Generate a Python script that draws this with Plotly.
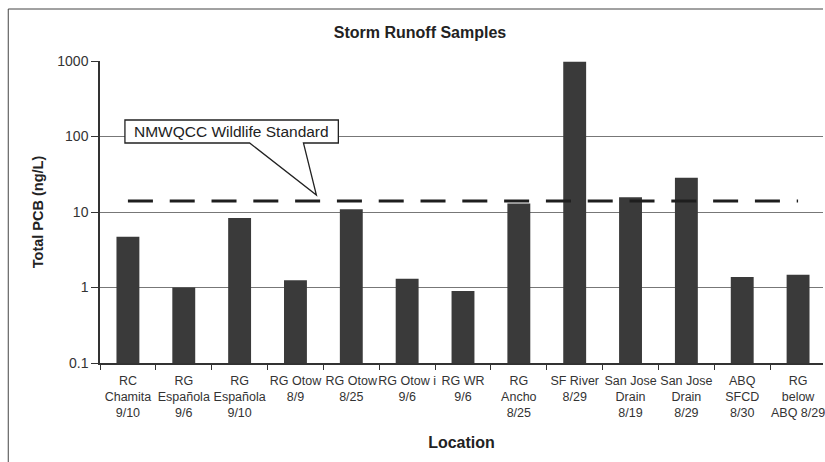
import plotly.graph_objects as go

# ---- data ----
locations = [
    "RC<br>Chamita<br>9/10",
    "RG<br>Española<br>9/6",
    "RG<br>Española<br>9/10",
    "RG Otow<br>8/9",
    "RG Otow<br>8/25",
    "RG Otow i<br>9/6",
    "RG WR<br>9/6",
    "RG<br>Ancho<br>8/25",
    "SF River<br>8/29",
    "San Jose<br>Drain<br>8/19",
    "San Jose<br>Drain<br>8/29",
    "ABQ<br>SFCD<br>8/30",
    "RG<br>below<br>ABQ 8/29",
]
total_pcb = [4.7, 1.0, 8.3, 1.25, 10.9, 1.31, 0.9, 13.0, 980, 15.7, 28.5, 1.38, 1.48]
standard_value = 14
standard_label = "NMWQCC Wildlife Standard"
y_tickvals = [0.1, 1, 10, 100, 1000]
y_ticktext = ["0.1", "1", "10", "100", "1000"]

# ---- layout geometry (pixels) ----
W, H = 825, 462
L, R, T, B = 100, 0, 61, 99
PW, PH = W - L - R, H - T - B
CAT_PX = 56.0  # pixel width of one category slot (plot continues past the right edge)


def px(x):
    return (x - L) / PW


def py(y):
    return (H - B - y) / PH


FONT = "Arial, Liberation Sans, sans-serif"

fig = go.Figure()
fig.add_trace(go.Bar(
    x=locations, y=total_pcb,
    marker=dict(color="#3a3a3a", line=dict(width=0)),
    width=0.41, showlegend=False,
))
fig.add_trace(go.Scatter(
    x=[locations[0], locations[-1]], y=[standard_value, standard_value],
    mode="lines", line=dict(color="#1e1e1e", width=3, dash="25px,16.8px"),
    showlegend=False, hoverinfo="skip",
))

# callout shape (box + pointer)
pts = [(125, 120), (339, 120), (339, 143), (304, 143), (317, 195), (250, 143), (125, 143)]
path = "M " + " L ".join(f"{px(a):.5f},{py(b):.5f}" for a, b in pts) + " Z"
shapes = [
    dict(type="path", path=path, xref="paper", yref="paper",
         line=dict(color="#222", width=1.3), fillcolor="white", layer="above"),
    # outer chart border: left and top edges (the rest lies outside the picture)
    dict(type="line", xref="paper", yref="paper",
         x0=px(8), x1=px(8), y0=py(9), y1=py(462),
         line=dict(color="#444", width=1), layer="below"),
    dict(type="line", xref="paper", yref="paper",
         x0=px(8), x1=px(825), y0=py(9), y1=py(9),
         line=dict(color="#444", width=1), layer="below"),
]

annotations = [
    dict(text=standard_label, xref="paper", yref="paper",
         x=px(232), y=py(131.5), xanchor="center", yanchor="middle",
         showarrow=False, font=dict(family=FONT, size=15.5, color="#222")),
]

fig.update_layout(
    width=W, height=H,
    margin=dict(l=L, r=R, t=T, b=B),
    paper_bgcolor="white", plot_bgcolor="white",
    title=dict(text="<b>Storm Runoff Samples</b>", x=420 / W, xanchor="center",
               y=1 - 32 / H, yanchor="middle",
               font=dict(family=FONT, size=16, color="#222")),
    shapes=shapes, annotations=annotations,
    font=dict(family=FONT, color="#222"),
)
fig.update_xaxes(
    type="category", showgrid=False, showline=True, linecolor="#333", linewidth=1.5,
    ticks="outside", tickson="boundaries", ticklen=5, tickcolor="#333",
    tickfont=dict(family=FONT, size=12.5, color="#333"), tickangle=0,
    ticklabelstandoff=5,
    title=dict(text="<b>Location</b>", font=dict(family=FONT, size=16, color="#222"), standoff=18),
    range=[-0.5, -0.5 + PW / CAT_PX],
)
fig.update_yaxes(
    type="log", range=[-1, 3], tickvals=y_tickvals, ticktext=y_ticktext,
    showgrid=True, gridcolor="#777", gridwidth=1,
    showline=True, linecolor="#333", linewidth=1.5,
    ticks="outside", ticklen=7, tickcolor="#333",
    tickfont=dict(family=FONT, size=14, color="#333"),
    title=dict(text="<b>Total PCB (ng/L)</b>", font=dict(family=FONT, size=14.5, color="#222"), standoff=10),
)

fig.write_html("out.html")
